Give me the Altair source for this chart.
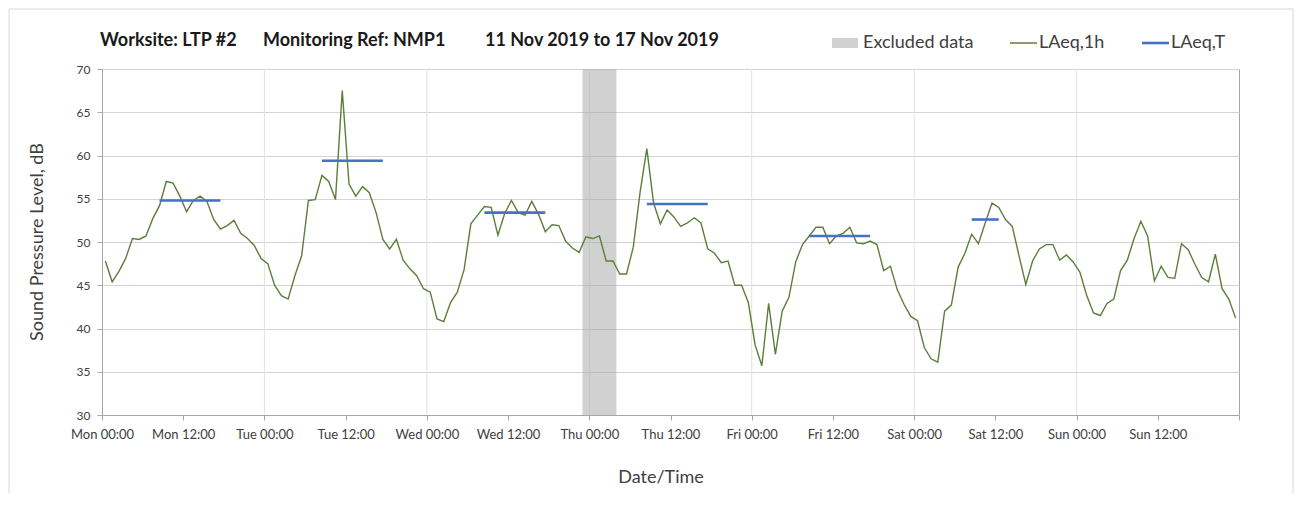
import altair as alt
import pandas as pd

# ---------------- data ----------------
days = ["Mon", "Tue", "Wed", "Thu", "Fri", "Sat", "Sun"]
hours = list(range(168))  # hour index from Mon 00:00
laeq_1h = [
    47.8, 45.4, 46.6, 48.1, 50.4, 50.3, 50.7, 52.7, 54.2, 57.0, 56.8, 55.3,
    53.5, 54.8, 55.3, 54.7, 52.6, 51.5, 51.9, 52.5, 51.0, 50.4, 49.6, 48.1,
    47.5, 45.0, 43.8, 43.4, 46.1, 48.4, 54.8, 54.9, 57.7, 57.0, 54.9, 67.5,
    56.7, 55.3, 56.4, 55.7, 53.4, 50.3, 49.2, 50.3, 47.9, 46.9, 46.1, 44.6,
    44.2, 41.1, 40.8, 43.0, 44.2, 46.8, 52.1, 53.1, 54.1, 54.0, 50.8, 53.3,
    54.8, 53.4, 53.1, 54.7, 53.2, 51.2, 52.0, 51.9, 50.1, 49.3, 48.8, 50.6,
    50.4, 50.7, 47.8, 47.8, 46.3, 46.3, 49.4, 55.7, 60.8, 54.5, 52.1, 53.7,
    52.9, 51.8, 52.2, 52.8, 52.2, 49.2, 48.7, 47.6, 47.8, 45.0, 45.0, 43.0,
    38.1, 35.7, 42.9, 37.0, 42.0, 43.6, 47.7, 49.7, 50.7, 51.7, 51.7, 49.8,
    50.7, 51.0, 51.7, 49.9, 49.8, 50.1, 49.7, 46.7, 47.2, 44.5, 42.8, 41.4,
    40.9, 37.8, 36.5, 36.1, 42.0, 42.7, 47.1, 48.7, 50.9, 49.8, 52.2, 54.5,
    54.0, 52.6, 51.8, 48.4, 45.1, 47.8, 49.2, 49.7, 49.7, 47.9, 48.5, 47.7,
    46.5, 43.8, 41.8, 41.5, 42.9, 43.4, 46.7, 47.9, 50.4, 52.4, 50.7, 45.5,
    47.2, 45.9, 45.8, 49.8, 49.1, 47.4, 45.9, 45.4, 48.6, 44.6, 43.4, 41.2,
]
laeqT_start = [8, 32, 56, 80, 104, 128]
laeqT_end = [17, 41, 65, 89, 113, 132]
laeqT_values = [54.8, 59.4, 53.4, 54.4, 50.7, 52.6]
excluded_start = [71]
excluded_end = [76]
day_grid = [24, 48, 72, 96, 120, 144]
x_ticks = list(range(0, 169, 12))
y_ticks = list(range(30, 71, 5))

title_parts = ["Worksite: LTP #2", "Monitoring Ref: NMP1", "11 Nov 2019 to 17 Nov 2019"]
legend_labels = ["Excluded data", "LAeq,1h", "LAeq,T"]
x_title = "Date/Time"
y_title = "Sound Pressure Level, dB"

# ---------------- tables ----------------
df_line = pd.DataFrame({"t": [h + 0.5 for h in hours], "laeq": laeq_1h})
df_T = pd.DataFrame({
    "t1": [s + 0.5 for s in laeqT_start],
    "t2": [e + 0.5 for e in laeqT_end],
    "v": laeqT_values,
})
df_ex = pd.DataFrame({"t1": excluded_start, "t2": excluded_end})
df_grid = pd.DataFrame({"t": day_grid})

W, H = 1137, 346
FONT = "Lato"
TXT = "#404040"
GREEN = "#5b7f3b"
BLUE = "#4472c4"
AXC = "#a6a6a6"

day_js = "[" + ",".join("'%s'" % d for d in days) + "]"
label_expr = (
    "datum.value >= 168 ? '' : (" + day_js +
    "[floor(datum.value/24)] + (datum.value % 24 == 0 ? ' 00:00' : ' 12:00'))"
)

xscale = alt.Scale(domain=[0, 168], nice=False, zero=False)
yscale = alt.Scale(domain=[30, 70], nice=False, zero=False)
xaxis = alt.Axis(values=x_ticks, labelExpr=label_expr, grid=False, title=None,
                 tickSize=5, tickColor=AXC, domainColor=AXC, labelFont=FONT,
                 labelFontSize=13, labelColor=TXT, labelPadding=8,
                 labelFlush=False, labelOverlap=False)
yaxis = alt.Axis(values=y_ticks, grid=True, gridColor="#d4d4d4", title=None,
                 tickSize=5, tickColor=AXC, domainColor=AXC, labelFont=FONT,
                 labelFontSize=12, labelColor=TXT, labelPadding=7)

X = lambda f: alt.X(f, scale=xscale, axis=xaxis)
Y = lambda f: alt.Y(f, scale=yscale, axis=yaxis)

grid = alt.Chart(df_grid).mark_rule(color="#e2e2e2", strokeWidth=1).encode(
    x=X("t:Q"), y=alt.value(0), y2=alt.value(H))

band = alt.Chart(df_ex).mark_rect(color="#a3a3a3", opacity=0.5).encode(
    x=X("t1:Q"), x2="t2:Q", y=alt.value(0), y2=alt.value(H))

line = alt.Chart(df_line).mark_line(color=GREEN, strokeWidth=1.4).encode(
    x=X("t:Q"), y=Y("laeq:Q"))

laeqT = alt.Chart(df_T).mark_rule(color=BLUE, strokeWidth=2.6).encode(
    x=X("t1:Q"), x2="t2:Q", y=Y("v:Q"))


def txt(s, x, y, size=18, weight="normal", color=TXT, angle=0, align="left"):
    return alt.Chart(pd.DataFrame({"s": [s]})).mark_text(
        align=align, baseline="middle", font=FONT, fontSize=size,
        fontWeight=weight, color=color, angle=angle
    ).encode(x=alt.value(x), y=alt.value(y), text="s:N")


titles = [
    txt(title_parts[0], -2, -28, 18, "bold", "#1a1a1a"),
    txt(title_parts[1], 161, -28, 18, "bold", "#1a1a1a"),
    txt(title_parts[2], 383, -28, 18, "bold", "#1a1a1a"),
]

leg_rect = alt.Chart(pd.DataFrame({"s": [legend_labels[0]]})).mark_rect(
    color="#a3a3a3", opacity=0.5).encode(
    x=alt.value(730), x2=alt.value(756), y=alt.value(-31), y2=alt.value(-21))
leg_green = alt.Chart(pd.DataFrame({"s": [legend_labels[1]]})).mark_rule(
    color=GREEN, strokeWidth=1.5).encode(
    x=alt.value(908), x2=alt.value(935), y=alt.value(-26))
leg_blue = alt.Chart(pd.DataFrame({"s": [legend_labels[2]]})).mark_rule(
    color=BLUE, strokeWidth=2.6).encode(
    x=alt.value(1040), x2=alt.value(1067), y=alt.value(-26))
legend = [
    leg_rect, leg_green, leg_blue,
    txt(legend_labels[0], 761, -26),
    txt(legend_labels[1], 937, -26),
    txt(legend_labels[2], 1069, -26),
]

axis_titles = [
    txt(x_title, 559, 409, 18, align="center"),
    txt(y_title, -64, 173, 18, angle=270, align="center"),
]

BC = "#d9d9d9"
frame = [
    alt.Chart(pd.DataFrame({"s": ["top"]})).mark_rule(color=BC).encode(
        x=alt.value(-93), x2=alt.value(1191), y=alt.value(-60)),
    alt.Chart(pd.DataFrame({"s": ["left"]})).mark_rule(color=BC).encode(
        x=alt.value(-93), y=alt.value(-60), y2=alt.value(426)),
    alt.Chart(pd.DataFrame({"s": ["right"]})).mark_rule(color=BC).encode(
        x=alt.value(1191), y=alt.value(-60), y2=alt.value(426)),
]

chart = alt.layer(grid, band, line, laeqT, *titles, *legend, *axis_titles, *frame).properties(
    width=W, height=H,
    autosize=alt.AutoSizeParams(type="none"),
    padding={"left": 94, "top": 61, "right": 55, "bottom": 78},
    background="white",
).configure_view(stroke=AXC, strokeWidth=1)

chart.save("out.html", embed_options={"renderer": "svg", "actions": False})
